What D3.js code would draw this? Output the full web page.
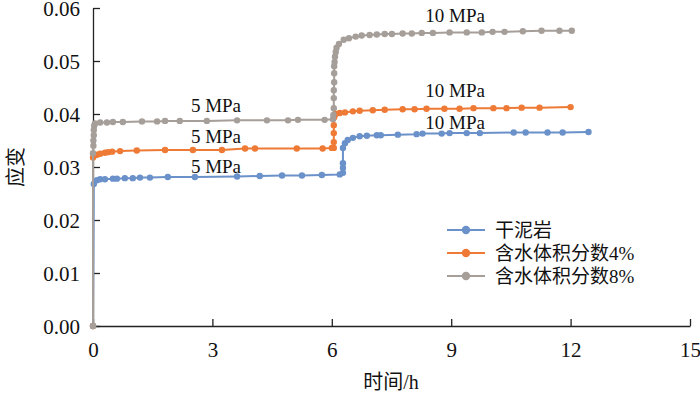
<!DOCTYPE html>
<html>
<head>
<meta charset="utf-8">
<script src="https://cdn.jsdelivr.net/npm/d3@7"></script>
<style>
  html, body { margin: 0; padding: 0; background: #fff; }
  svg { display: block; }
  text { font-family: "Liberation Serif", "Noto Sans CJK SC", serif; fill: #111; }
</style>
</head>
<body>
<svg id="chart" width="700" height="393"></svg>
<script>
// ---- Data (time in h, strain) ----
const seriesNames = ["干泥岩", "含水体积分数4%", "含水体积分数8%"];

const dryTime = [0, 0.02, 0.1, 0.18, 0.3, 0.5, 0.6, 0.8, 1.0, 1.18, 1.43, 1.88, 2.56, 3.62, 4.19, 4.75, 5.25, 5.75, 6.2,
  6.28, 6.28, 6.28, 6.28, 6.33, 6.40, 6.53, 6.70, 6.88, 7.13, 7.23, 7.66, 8.13, 8.28, 8.76, 8.96, 9.39, 9.72, 10.57, 10.87, 11.42, 11.8, 12.45];
const dryStrain = [0, 0.0268, 0.0275, 0.0277, 0.0277, 0.0278, 0.0278, 0.0279, 0.0279, 0.0280, 0.0280, 0.0281, 0.0281, 0.0282, 0.0283, 0.0284, 0.0284, 0.0285, 0.0286,
  0.0289, 0.0298, 0.0307, 0.0336, 0.0345, 0.0351, 0.0355, 0.0358, 0.0359, 0.0360, 0.0360, 0.0361, 0.0362, 0.0363, 0.0363, 0.0364, 0.0364, 0.0364, 0.0365, 0.0365, 0.0365, 0.0365, 0.0366];

const w4Time = [0, 0.0, 0.05, 0.1, 0.18, 0.3, 0.38, 0.48, 0.68, 1.1, 1.81, 2.51, 3.24, 3.82, 4.07, 5.12, 5.77, 6.0,
  6.05, 6.05, 6.05, 6.05, 6.06, 6.1, 6.2, 6.33, 6.53, 6.7, 7.03, 7.33, 7.78, 8.08, 8.38, 8.83, 9.21, 9.56, 10.06, 10.39, 10.77, 11.22, 12.0];
const w4Strain = [0, 0.0318, 0.0322, 0.0323, 0.0325, 0.0327, 0.0328, 0.0329, 0.0330, 0.0331, 0.0332, 0.0332, 0.0332, 0.0335, 0.0335, 0.0335, 0.0335, 0.0336,
  0.0336, 0.0347, 0.0364, 0.0379, 0.0394, 0.0400, 0.0402, 0.0403, 0.0405, 0.0406, 0.0407, 0.0408, 0.0409, 0.0409, 0.0410, 0.0410, 0.0410, 0.0411, 0.0411, 0.0411, 0.0412, 0.0412, 0.0413];

const w8Time = [0, 0, 0.01, 0.01, 0.02, 0.02, 0.03, 0.05, 0.18, 0.35, 0.5, 0.75, 1.23, 1.61, 1.81, 2.18, 2.86, 3.62, 4.37, 4.9, 5.15, 5.82, 6.03,
  6.04, 6.05, 6.05, 6.05, 6.06, 6.06, 6.06, 6.07, 6.08, 6.1, 6.12, 6.18, 6.3, 6.43, 6.6, 6.75, 6.95, 7.13, 7.33, 7.51, 7.78, 8.01, 8.26, 8.54, 8.96, 9.39, 9.77, 10.04, 10.34, 10.8, 11.27, 11.72, 12.03];
const w8Strain = [0, 0.0326, 0.0340, 0.0350, 0.0360, 0.0370, 0.0378, 0.0382, 0.0384, 0.0384, 0.0385, 0.0385, 0.0386, 0.0386, 0.0387, 0.0387, 0.0387, 0.0388, 0.0388, 0.0388, 0.0389, 0.0389, 0.0390,
  0.0398, 0.0411, 0.0430, 0.0445, 0.0460, 0.0477, 0.0490, 0.0498, 0.0508, 0.0517, 0.0525, 0.0532, 0.0540, 0.0543, 0.0546, 0.0548, 0.0549, 0.0550, 0.0551, 0.0551, 0.0552, 0.0552, 0.0553, 0.0553, 0.0554, 0.0554, 0.0554, 0.0555, 0.0555, 0.0556, 0.0557, 0.0557, 0.0557];

const xTicks = [0, 3, 6, 9, 12, 15];
const yTicks = [0, 0.01, 0.02, 0.03, 0.04, 0.05, 0.06];

const annoText = ["5 MPa", "5 MPa", "5 MPa", "10 MPa", "10 MPa", "10 MPa"];
const annoTime = [3.09, 3.09, 3.09, 9.1, 9.1, 9.1];
const annoStrain = [0.0404, 0.0345, 0.0289, 0.0573, 0.0433, 0.0371];

const colors = ["#6a91c9", "#ee7a35", "#a59e99"];

// ---- Layout ----
const svg = d3.select("#chart");
const x = d3.scaleLinear().domain([0, 15]).range([93, 690]);
const y = d3.scaleLinear().domain([0, 0.06]).range([326, 8]);

const series = [
  { name: seriesNames[0], t: dryTime, s: dryStrain, color: colors[0] },
  { name: seriesNames[1], t: w4Time, s: w4Strain, color: colors[1] },
  { name: seriesNames[2], t: w8Time, s: w8Strain, color: colors[2] }
];

// Axes
const xAxis = d3.axisBottom(x).tickValues(xTicks).tickSizeInner(-7).tickSizeOuter(0).tickPadding(16).tickFormat(d3.format("d"));
const yAxis = d3.axisLeft(y).tickValues(yTicks).tickSizeInner(-7).tickSizeOuter(0).tickPadding(13).tickFormat(d3.format(".2f"));

const gx = svg.append("g").attr("transform", "translate(0,326)").call(xAxis);
const gy = svg.append("g").attr("transform", "translate(93,0)").call(yAxis);
[gx, gy].forEach(g => {
  g.select(".domain").attr("stroke", "#222").attr("stroke-width", 1.3);
  g.selectAll(".tick line").attr("stroke", "#222").attr("stroke-width", 1.3);
  g.selectAll(".tick text").style("font-size", "21px").style("font-family", "'Liberation Serif', serif").attr("fill", "#111");
});
gx.selectAll(".tick text").attr("dy", "0.71em");
gy.selectAll(".tick text").attr("dy", "0.36em");

// Series
const line = d3.line().x(d => x(d[0])).y(d => y(d[1]));
series.forEach(sr => {
  const pts = sr.t.map((t, i) => [t, sr.s[i]]);
  const g = svg.append("g");
  g.append("path").datum(pts).attr("d", line).attr("fill", "none")
    .attr("stroke", sr.color).attr("stroke-width", 2);
  g.selectAll("circle").data(pts).join("circle")
    .attr("cx", d => x(d[0])).attr("cy", d => y(d[1])).attr("r", 3.2)
    .attr("fill", sr.color);
});

// Annotations
annoText.forEach((txt, i) => {
  svg.append("text").attr("x", x(annoTime[i])).attr("y", y(annoStrain[i]))
    .attr("text-anchor", "middle").style("font-size", "19px").text(txt);
});

// Axis titles
svg.append("text").attr("transform", "translate(23,167) rotate(-90)")
  .attr("text-anchor", "middle").style("font-size", "20px")
  .style("font-family", "'Noto Sans CJK SC', sans-serif").text("应变");
svg.append("text").attr("x", 391).attr("y", 389)
  .attr("text-anchor", "middle").style("font-size", "20px").text("时间/h");

// Legend
const legend = svg.append("g");
series.forEach((sr, i) => {
  const cy = 230 + i * 23;
  legend.append("line").attr("x1", 447).attr("x2", 485).attr("y1", cy).attr("y2", cy)
    .attr("stroke", sr.color).attr("stroke-width", 2);
  legend.append("circle").attr("cx", 466).attr("cy", cy).attr("r", 4.2).attr("fill", sr.color);
  legend.append("text").attr("x", 495).attr("y", cy).attr("dy", "0.35em")
    .style("font-size", "19px").text(sr.name);
});
</script>
</body>
</html>
